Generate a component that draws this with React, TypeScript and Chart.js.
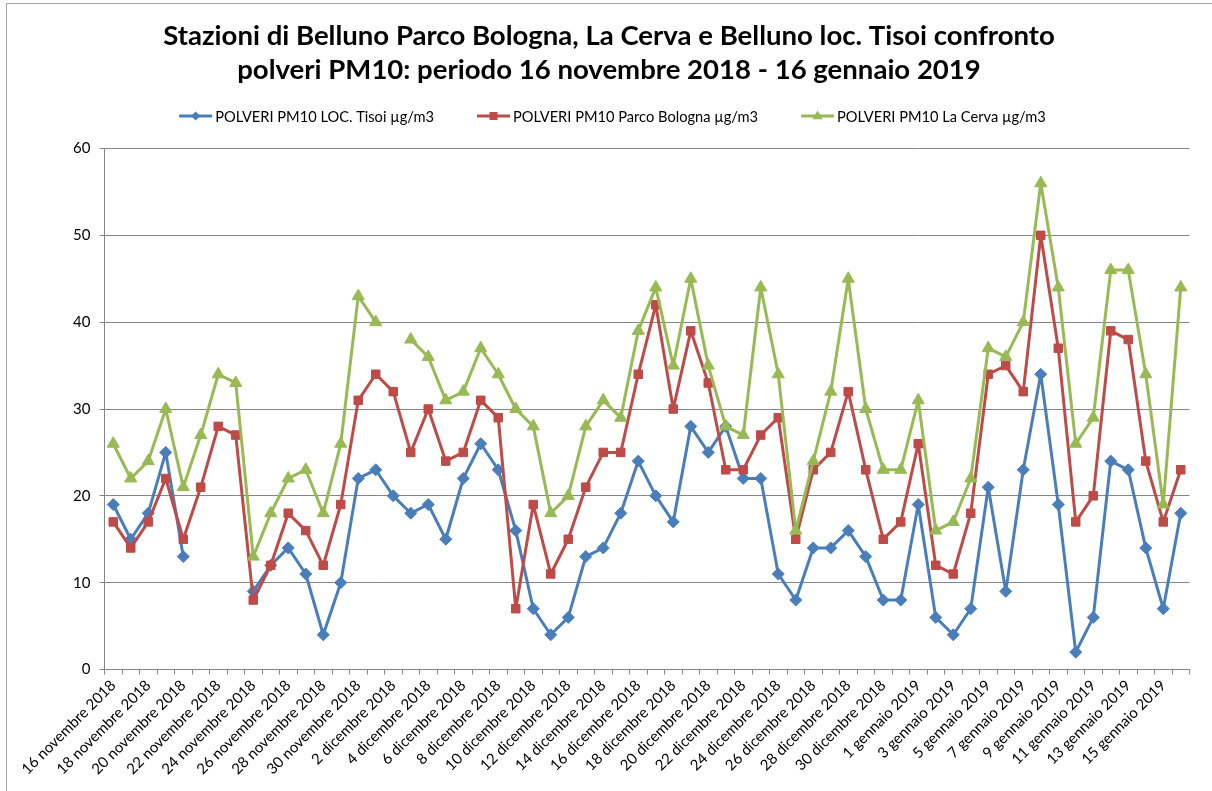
import React, { useEffect, useRef } from 'react';
import { Chart, registerables } from 'chart.js';

Chart.register(...registerables);

const TITLE_LINES = [
  'Stazioni di Belluno Parco Bologna, La Cerva e Belluno loc. Tisoi confronto',
  'polveri PM10: periodo 16 novembre 2018 - 16 gennaio 2019',
];

const DATES = [
  '16 novembre 2018', '17 novembre 2018', '18 novembre 2018', '19 novembre 2018', '20 novembre 2018',
  '21 novembre 2018', '22 novembre 2018', '23 novembre 2018', '24 novembre 2018', '25 novembre 2018',
  '26 novembre 2018', '27 novembre 2018', '28 novembre 2018', '29 novembre 2018', '30 novembre 2018',
  '1 dicembre 2018', '2 dicembre 2018', '3 dicembre 2018', '4 dicembre 2018', '5 dicembre 2018',
  '6 dicembre 2018', '7 dicembre 2018', '8 dicembre 2018', '9 dicembre 2018', '10 dicembre 2018',
  '11 dicembre 2018', '12 dicembre 2018', '13 dicembre 2018', '14 dicembre 2018', '15 dicembre 2018',
  '16 dicembre 2018', '17 dicembre 2018', '18 dicembre 2018', '19 dicembre 2018', '20 dicembre 2018',
  '21 dicembre 2018', '22 dicembre 2018', '23 dicembre 2018', '24 dicembre 2018', '25 dicembre 2018',
  '26 dicembre 2018', '27 dicembre 2018', '28 dicembre 2018', '29 dicembre 2018', '30 dicembre 2018',
  '31 dicembre 2018', '1 gennaio 2019', '2 gennaio 2019', '3 gennaio 2019', '4 gennaio 2019',
  '5 gennaio 2019', '6 gennaio 2019', '7 gennaio 2019', '8 gennaio 2019', '9 gennaio 2019',
  '10 gennaio 2019', '11 gennaio 2019', '12 gennaio 2019', '13 gennaio 2019', '14 gennaio 2019',
  '15 gennaio 2019', '16 gennaio 2019',
];

const SERIES_NAMES = [
  'POLVERI PM10 LOC. Tisoi µg/m3',
  'POLVERI PM10 Parco Bologna µg/m3',
  'POLVERI PM10 La Cerva µg/m3',
];

const TISOI = [
  19, 15, 18, 25, 13, null, null, null, 9, 12,
  14, 11, 4, 10, 22, 23, 20, 18, 19, 15,
  22, 26, 23, 16, 7, 4, 6, 13, 14, 18,
  24, 20, 17, 28, 25, 28, 22, 22, 11, 8,
  14, 14, 16, 13, 8, 8, 19, 6, 4, 7,
  21, 9, 23, 34, 19, 2, 6, 24, 23, 14,
  7, 18,
];

const PARCO_BOLOGNA = [
  17, 14, 17, 22, 15, 21, 28, 27, 8, 12,
  18, 16, 12, 19, 31, 34, 32, 25, 30, 24,
  25, 31, 29, 7, 19, 11, 15, 21, 25, 25,
  34, 42, 30, 39, 33, 23, 23, 27, 29, 15,
  23, 25, 32, 23, 15, 17, 26, 12, 11, 18,
  34, 35, 32, 50, 37, 17, 20, 39, 38, 24,
  17, 23,
];

const LA_CERVA = [
  26, 22, 24, 30, 21, 27, 34, 33, 13, 18,
  22, 23, 18, 26, 43, 40, null, 38, 36, 31,
  32, 37, 34, 30, 28, 18, 20, 28, 31, 29,
  39, 44, 35, 45, 35, 28, 27, 44, 34, 16,
  24, 32, 45, 30, 23, 23, 31, 16, 17, 22,
  37, 36, 40, 56, 44, 26, 29, 46, 46, 34,
  19, 44,
];

const Y_MIN = 0;
const Y_MAX = 60;
const Y_STEP = 10;

const COLORS = ['#4A7EBB', '#BE4B48', '#98B954'];
const STYLES = ['rectRot', 'rect', 'triangle'];
const FONT = 'Lato, "Open Sans", "DejaVu Sans", sans-serif';

function drawLegendMarker(ctx: CanvasRenderingContext2D, style: string, x: number, y: number, color: string) {
  ctx.fillStyle = color;
  ctx.beginPath();
  if (style === 'rectRot') {
    const r = 4.5;
    ctx.moveTo(x, y - r);
    ctx.lineTo(x + r, y);
    ctx.lineTo(x, y + r);
    ctx.lineTo(x - r, y);
  } else if (style === 'rect') {
    const h = 4;
    ctx.rect(x - h, y - h, 2 * h, 2 * h);
  } else {
    const r = 5.5;
    ctx.moveTo(x, y - r);
    ctx.lineTo(x + r * 0.95, y + r * 0.6);
    ctx.lineTo(x - r * 0.95, y + r * 0.6);
  }
  ctx.closePath();
  ctx.fill();
}

const decorPlugin = {
  id: 'decor',
  beforeDraw(chart: any) {
    const ctx: CanvasRenderingContext2D = chart.ctx;
    ctx.save();
    ctx.fillStyle = '#ffffff';
    ctx.fillRect(0, 0, chart.width, chart.height);
    ctx.strokeStyle = '#a6a6a6';
    ctx.lineWidth = 1;
    ctx.strokeRect(6.5, 3.5, chart.width + 40, chart.height + 40);
    ctx.restore();
  },
  afterDraw(chart: any) {
    const ctx: CanvasRenderingContext2D = chart.ctx;
    ctx.save();
    // Title
    ctx.font = `bold 100px ${FONT}`;
    const w1 = ctx.measureText(TITLE_LINES[0]).width;
    const tSize = (100 * 892) / w1;
    ctx.font = `bold ${tSize}px ${FONT}`;
    ctx.fillStyle = '#000000';
    ctx.textAlign = 'center';
    ctx.textBaseline = 'alphabetic';
    ctx.fillText(TITLE_LINES[0], 609, 44.5);
    ctx.fillText(TITLE_LINES[1], 609, 78.5);

    // Legend
    ctx.font = `100px ${FONT}`;
    const wl = ctx.measureText(SERIES_NAMES[0]).width;
    const lSize = (100 * 219) / wl;
    ctx.font = `${lSize}px ${FONT}`;
    const sample = 33;
    const gapText = 3;
    const gapItem = 43;
    const widths = SERIES_NAMES.map((n) => ctx.measureText(n).width);
    const total = widths.reduce((a, b) => a + b, 0) + SERIES_NAMES.length * (sample + gapText) + gapItem * (SERIES_NAMES.length - 1);
    let x = 612.5 - total / 2;
    const y = 116;
    ctx.textAlign = 'left';
    ctx.textBaseline = 'middle';
    SERIES_NAMES.forEach((name, i) => {
      ctx.strokeStyle = COLORS[i];
      ctx.lineWidth = 3;
      ctx.beginPath();
      ctx.moveTo(x, y);
      ctx.lineTo(x + sample, y);
      ctx.stroke();
      drawLegendMarker(ctx, STYLES[i], x + sample / 2, y, COLORS[i]);
      ctx.fillStyle = '#000000';
      ctx.fillText(name, x + sample + gapText, y + 1);
      x += sample + gapText + widths[i] + gapItem;
    });
    ctx.restore();
  },
};

export default function App() {
  const canvasRef = useRef<HTMLCanvasElement | null>(null);

  useEffect(() => {
    const canvas = canvasRef.current;
    if (!canvas) return;
    const seriesData = [TISOI, PARCO_BOLOGNA, LA_CERVA];
    const radii = [6, 6, 7];
    const chart = new Chart(canvas, {
      type: 'line',
      data: {
        labels: DATES,
        datasets: seriesData.map((d, i) => ({
          label: SERIES_NAMES[i],
          data: d,
          borderColor: COLORS[i],
          backgroundColor: COLORS[i],
          pointBackgroundColor: COLORS[i],
          pointBorderColor: COLORS[i],
          borderWidth: 3,
          pointStyle: STYLES[i] as any,
          pointRadius: radii[i],
          pointHoverRadius: radii[i],
          pointBorderWidth: 1,
          borderJoinStyle: 'round' as const,
          tension: 0,
          spanGaps: false,
          order: 3 - i,
        })),
      },
      options: {
        responsive: false,
        animation: false,
        devicePixelRatio: 1,
        layout: { padding: { top: 148.5, right: 22.5, bottom: 0, left: 0 } },
        plugins: {
          legend: { display: false },
          title: { display: false },
          tooltip: { enabled: false },
        },
        scales: {
          x: {
            type: 'category',
            offset: true,
            grid: {
              display: true,
              drawOnChartArea: false,
              offset: true,
              tickLength: 5,
              color: '#868686',
            },
            border: { display: true, color: '#868686', width: 1 },
            ticks: {
              autoSkip: false,
              maxRotation: 45,
              minRotation: 45,
              padding: 2,
              color: '#000000',
              font: { family: FONT, size: 15 },
              callback: (_v: any, i: number) => (i % 2 === 0 ? DATES[i] : ''),
            },
            afterFit: (s: any) => {
              s.height = 121.5;
            },
          },
          y: {
            min: Y_MIN,
            max: Y_MAX,
            ticks: {
              stepSize: Y_STEP,
              padding: 9,
              color: '#000000',
              font: { family: FONT, size: 15 },
            },
            grid: { color: '#868686', tickLength: 5, lineWidth: 1 },
            border: { display: true, color: '#868686', width: 1 },
            afterFit: (s: any) => {
              s.width = 104.5;
            },
          },
        },
      },
      plugins: [decorPlugin],
    });
    return () => chart.destroy();
  }, []);

  return (
    <div style={{ position: 'fixed', left: 0, top: 0, width: 1212, height: 791, background: '#fff' }}>
      <canvas ref={canvasRef} width={1212} height={791} style={{ display: 'block', width: 1212, height: 791 }} />
    </div>
  );
}
